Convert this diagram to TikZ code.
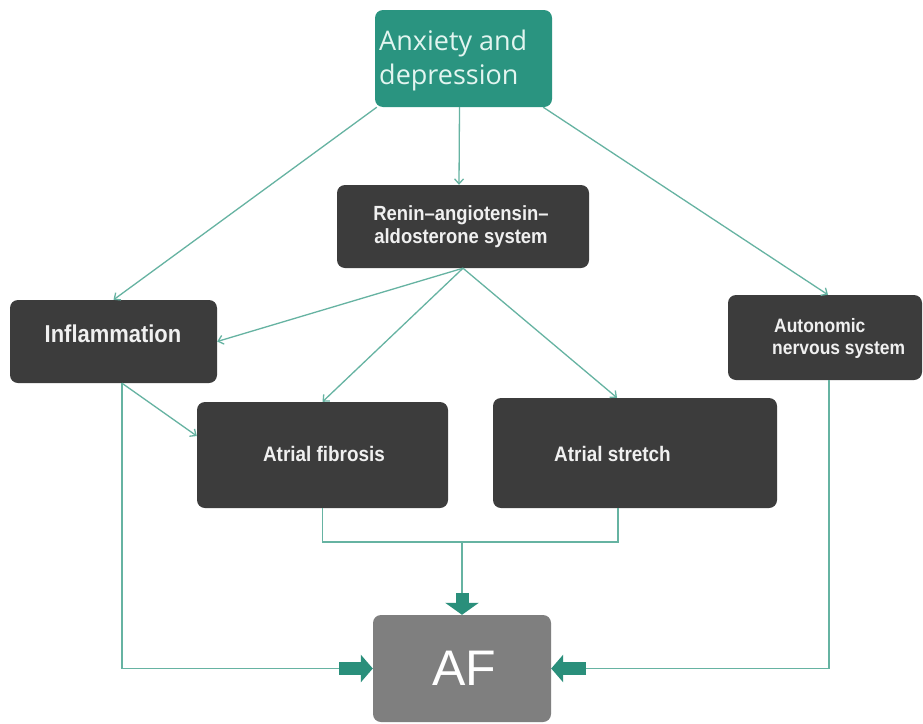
\documentclass[tikz,border=0pt]{standalone}
\usepackage{fontspec}
\setmainfont{Liberation Sans}
\newfontfamily\boxfont[FakeStretch=0.9]{Liberation Sans}
\newfontfamily\anxfont{Open Sans}
\usetikzlibrary{arrows.meta}
\definecolor{tealbox}{HTML}{2A9480}
\definecolor{tealline}{HTML}{66B3A2}
\definecolor{tealarrow}{HTML}{2A8F7B}
\definecolor{darkbox}{HTML}{3C3C3C}
\definecolor{afgray}{HTML}{7F7F7F}
\definecolor{anxtext}{HTML}{E2F5F0}
\begin{document}
\begin{tikzpicture}[x=1pt,y=-1pt,
  box/.style={rectangle,rounded corners=8pt,inner sep=0pt,draw=none},
  dbox/.style={box,fill=darkbox},
  wtext/.style={text=white!94!black,inner sep=0pt,font=\boxfont\bfseries\fontsize{#1}{#1}\selectfont},
  conn/.style={draw=tealline,line width=1.3pt},
  carrow/.style={conn,-{Straight Barb[length=5pt,width=9pt]}},
  blockarrow/.style={draw=tealarrow,line width=13pt,-{Triangle[width=#1,length=12pt]}},
]
\useasboundingbox (0,0) rectangle (923,723);
\fill[white] (0,0) rectangle (923,723);

% boxes
\node[box,fill=tealbox,minimum width=177pt,minimum height=97pt] (anx) at (463.5,58.5) {};
\node[dbox,minimum width=252pt,minimum height=83pt] (raas) at (463,226.5) {};
\node[dbox,minimum width=207pt,minimum height=83pt] (infl) at (113.5,341.5) {};
\node[dbox,minimum width=194pt,minimum height=85pt] (auto) at (825,337.5) {};
\node[dbox,minimum width=251pt,minimum height=106pt] (fib) at (322.5,455) {};
\node[dbox,minimum width=284pt,minimum height=110pt] (str) at (635,453) {};
\node[box,fill=afgray,minimum width=178pt,minimum height=107pt] (AF) at (462,668.5) {};

% texts
\node[anchor=base west,inner sep=0pt,text=anxtext,font=\anxfont\fontsize{27}{27}\selectfont] (anx1) at (379,50) {Anxiety and};
\node[anchor=base west,inner sep=0pt,text=anxtext,font=\anxfont\fontsize{27}{27}\selectfont] (anx2) at (379,84) {depression};
\node[wtext=20.5,anchor=base] (raas1) at (461,220) {Renin–angiotensin–};
\node[wtext=20.5,anchor=base] (raas2) at (461,243) {aldosterone system};
\node[wtext=24.4,anchor=base] (infl1) at (113,342) {Inflammation};
\node[wtext=19.4,anchor=base west] (auto1) at (774,332) {Autonomic};
\node[wtext=19.4,anchor=base west] (auto2) at (772,354) {nervous system};
\node[wtext=21,anchor=base] (fib1) at (324,461) {Atrial fibrosis};
\node[wtext=21,anchor=base] (str1) at (612.5,461) {Atrial stretch};
\node[anchor=base,inner sep=0pt,text=white,font=\fontsize{50}{50}\selectfont] (AF1) at (464,685) {AF};

% connectors from anxiety
\draw[carrow] ([xshift=2pt]anx.south west) -- (infl.north);
\draw[carrow] ([xshift=-4pt]anx.south) -- ([xshift=-4pt]raas.north);
\draw[carrow] ([xshift=-9pt]anx.south east) -- ([xshift=3pt]auto.north);

% connectors from RAAS
\draw[carrow] (raas.south) -- (infl.east);
\draw[carrow] (raas.south) -- (fib.north);
\draw[carrow] (raas.south) -- ([xshift=-18pt]str.north);

% inflammation to fibrosis
\draw[carrow] ([xshift=8.5pt]infl.south) -- ([yshift=19pt]fib.west);

% to AF
\coordinate (lA) at (339,668.5);
\coordinate (rA) at (586,668.5);
\coordinate (jn) at (462,542);
\coordinate (tA) at (462,593);
\draw[conn] ([xshift=8.5pt]infl.south) |- (lA);
\draw[conn] ([xshift=4pt]auto.south) |- (rA);
\draw[conn] (fib.south) |- (jn) -| ([xshift=-17pt]str.south);
\draw[conn] (jn) -- (tA);
\draw[blockarrow=27pt] (lA) -- (AF.west);
\draw[blockarrow=27pt] (rA) -- (AF.east);
\draw[blockarrow=33pt] (tA) -- (AF.north);
\end{tikzpicture}
\end{document}
